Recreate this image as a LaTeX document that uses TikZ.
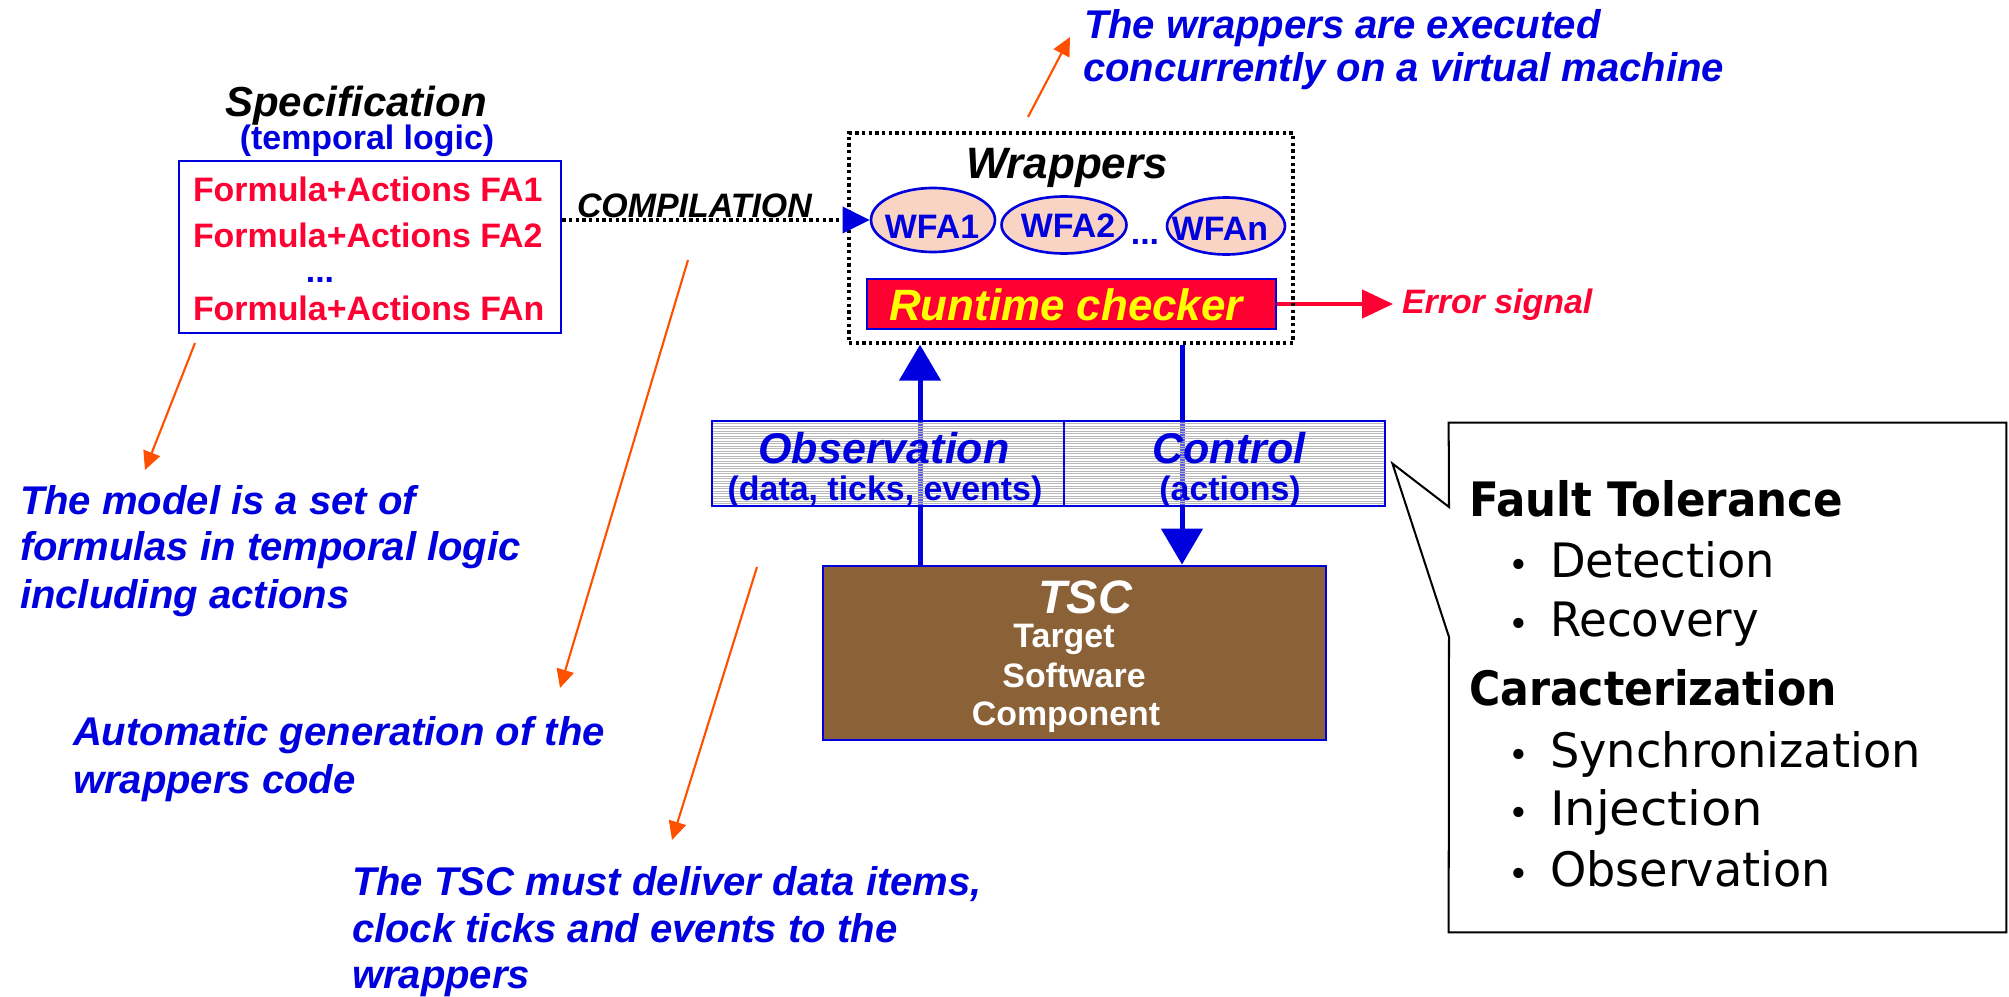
\documentclass[tikz,border=0pt]{standalone}
\usepackage{graphicx}
\usepackage{fontspec}
\setmainfont{Liberation Sans}
\newfontfamily\calloutfont{DejaVu Sans}
\usetikzlibrary{arrows.meta,fit,shapes.geometric}
\definecolor{txtblue}{RGB}{0,0,222}
\definecolor{fared}{RGB}{255,0,51}
\definecolor{peach}{RGB}{249,211,196}
\definecolor{tscbrown}{RGB}{139,97,56}
\definecolor{noteorange}{RGB}{255,80,0}
\definecolor{chkyellow}{RGB}{255,255,0}
% scale a line of text horizontally to a given width
\newcommand\hfit[2]{\resizebox{#1}{\height}{#2}}

\begin{document}
\begin{tikzpicture}[x=0.02cm, y=-0.02cm,
  txt/.style={inner sep=0pt, outer sep=0pt},
  note/.style={txt, anchor=base west, text=txtblue, font=\fontsize{22.8pt}{27pt}\selectfont\bfseries\itshape},
  formula/.style={txt, anchor=base west, text=fared, font=\fontsize{19.3pt}{23pt}\selectfont\bfseries},
  bluebox/.style={draw=txtblue, line width=1.6pt, inner sep=0pt},
  wfaell/.style={ellipse, draw=txtblue, fill=peach, line width=1.5pt, inner sep=0pt},
  wfatxt/.style={txt, anchor=base, text=txtblue, font=\fontsize{19.3pt}{23pt}\selectfont\bfseries},
  dotline/.style={line width=1.9pt, dash pattern=on 1.9pt off 1.9pt},
  flow/.style={txtblue, line width=2.85pt, -{Triangle[length=20.5pt, width=23.3pt]}},
  pointer/.style={noteorange, line width=1.2pt, -{Triangle[length=10.5pt, width=10pt]}},
  bandtitle/.style={txt, anchor=base, text=txtblue, font=\fontsize{24.5pt}{28pt}\selectfont\bfseries\itshape},
  bandsub/.style={txt, anchor=base, text=txtblue, font=\fontsize{19.3pt}{23pt}\selectfont\bfseries},
  tscline/.style={txt, anchor=base, text=white, font=\fontsize{19.3pt}{23pt}\selectfont\bfseries},
  callhead/.style={txt, anchor=base west, font=\calloutfont\bfseries\fontsize{27pt}{30pt}\selectfont},
  callitem/.style={txt, anchor=base west, font=\calloutfont\fontsize{27pt}{30pt}\selectfont},
]
\useasboundingbox (0,0) rectangle (2009,997);

% ---------- specification ----------
\node[txt, anchor=base, font=\fontsize{23.9pt}{28pt}\selectfont\bfseries\itshape] (spectitle) at (356,117) {Specification};
\node[txt, anchor=base, text=txtblue, font=\fontsize{19.3pt}{23pt}\selectfont\bfseries] (speclogic) at (367,150) {(temporal logic)};
\coordinate (specNW) at (179,161);
\coordinate (specSE) at (561,333);
\node[bluebox, fit=(specNW)(specSE)] (spec) {};
\node[formula] (fa1) at (193,201) {Formula+Actions FA1};
\node[formula] (fa2) at (193,247) {Formula+Actions FA2};
\node[txt, anchor=base, text=txtblue, font=\fontsize{19.3pt}{23pt}\selectfont\bfseries] (fadots) at (320,282) {...};
\node[formula] (fan) at (193,320) {Formula+Actions FAn};

% ---------- wrappers ----------
\coordinate (chkNW) at (867,279);
\coordinate (chkSE) at (1276,329);
\node[bluebox, fill=fared, fit=(chkNW)(chkSE)] (chk) {};
\node[txt, anchor=base, text=chkyellow, font=\fontsize{25pt}{29pt}\selectfont\bfseries\itshape] (chktxt) at (1066,320) {Runtime checker};
\coordinate (errtip) at (1393,304);
\draw[fared, line width=2.3pt, -{Triangle[length=17.6pt, width=16pt]}] (chk.east) -- (errtip);
\node[txt, anchor=base west, text=fared, font=\fontsize{19.3pt}{23pt}\selectfont\bfseries\itshape] (errtxt) at (1402,313) {Error signal};

\coordinate (wrapNW) at (849,133);
\coordinate (wrapSE) at (1293,343);
\node[draw, dotline, inner sep=0pt, fit=(wrapNW)(wrapSE)] (wrap) {};
\node[txt, anchor=base, font=\fontsize{25pt}{29pt}\selectfont\bfseries\itshape] (wraptitle) at (1067,178) {Wrappers};

\node[wfaell, minimum width=2.48cm, minimum height=1.28cm] (wfa1) at (933,220) {};
\node[wfaell, minimum width=2.5cm, minimum height=1.14cm] (wfa2) at (1064,225) {};
\node[wfaell, minimum width=2.36cm, minimum height=1.14cm] (wfan) at (1226,226) {};
\node[wfatxt] (wfa1txt) at (932,238) {WFA1};
\node[wfatxt] (wfa2txt) at (1068,237) {WFA2};
\node[wfatxt] (wfadots) at (1145,244) {...};
\node[wfatxt] (wfantxt) at (1220,240) {WFAn};

% compilation link
\draw[dotline, -{Triangle[length=15.4pt, width=15.4pt, color=txtblue, fill=txtblue, line width=0pt]}] (spec.east |- wfa1.west) -- (wfa1.west);
\node[txt, anchor=base west, font=\fontsize{19.3pt}{23pt}\selectfont\bfseries\itshape] (comp) at (577,217) {COMPILATION};

% ---------- target software component ----------
\coordinate (tscNW) at (823,566);
\coordinate (tscSE) at (1326,740);
\node[bluebox, fill=tscbrown, fit=(tscNW)(tscSE)] (tsc) {};
\node[txt, anchor=base, text=white, font=\fontsize{26.7pt}{30pt}\selectfont\bfseries\itshape] (tsctitle) at (1085,613) {TSC};
\node[tscline] (tsc1) at (1064,647) {Target};
\node[tscline] (tsc2) at (1074,687) {Software};
\node[tscline] (tsc3) at (1066,725) {Component};

% observation / control flows
\coordinate (upx) at (920,0);
\coordinate (dnx) at (1182,0);
\draw[flow] (tsc.north -| upx) -- (wrap.south -| upx);
\draw[flow] (wrap.south -| dnx) -- (tsc.north -| dnx);

% ---------- observation / control band ----------
\coordinate (obsNW) at (712,421);
\coordinate (obsSE) at (1064,506);
\coordinate (ctlNW) at (1064,421);
\coordinate (ctlSE) at (1385,506);
\fill[white, fill opacity=0.35] (obsNW) rectangle (ctlSE);
\foreach \yy in {423.5,426,...,504.5}
  \draw[gray!55, line width=0.35pt] (712,\yy) -- (1385,\yy);
\node[bluebox, fit=(obsNW)(obsSE)] (obs) {};
\node[bluebox, fit=(ctlNW)(ctlSE)] (ctl) {};
\node[bandtitle] (obstxt) at (884,463) {Observation};
\node[bandsub] (obssub) at (885,500) {(data, ticks, events)};
\node[bandtitle] (ctltxt) at (1229,463) {Control};
\node[bandsub] (ctlsub) at (1230,500) {(actions)};

% ---------- callout ----------
\coordinate (callNW) at (1449,423);
\coordinate (callSE) at (2006,932);
\node[inner sep=0pt, fit=(callNW)(callSE)] (callout) {};
\coordinate (calltip) at ([xshift=0.12cm]ctl.east);
\coordinate (wedgetop) at (1449,507);
\coordinate (wedgebot) at (1449,637);
\draw[line width=1.15pt, line join=miter, fill=white]
  (callout.north west) -- (callout.north east) -- (callout.south east) -- (callout.south west)
  -- (wedgebot) -- (calltip) -- (wedgetop) -- cycle;
\node[callhead] (ft) at (1469,516) {\hfit{7.48cm}{Fault Tolerance}};
\node[callitem] (det) at (1508,577) {\makebox[0.84cm][l]{\fontsize{20pt}{20pt}\selectfont •}\hfit{4.5cm}{Detection}};
\node[callitem] (rec) at (1508,636) {\makebox[0.84cm][l]{\fontsize{20pt}{20pt}\selectfont •}\hfit{4.18cm}{Recovery}};
\node[callhead] (car) at (1469,705) {\hfit{7.36cm}{Caracterization}};
\node[callitem] (syn) at (1508,767) {\makebox[0.84cm][l]{\fontsize{20pt}{20pt}\selectfont •}\hfit{7.42cm}{Synchronization}};
\node[callitem] (inj) at (1508,825) {\makebox[0.84cm][l]{\fontsize{20pt}{20pt}\selectfont •}\hfit{4.26cm}{Injection}};
\node[callitem] (obv) at (1508,886) {\makebox[0.84cm][l]{\fontsize{20pt}{20pt}\selectfont •}\hfit{5.62cm}{Observation}};

% ---------- annotations ----------
\node[note] (vm1) at (1084,39) {The wrappers are executed};
\node[note] (vm2) at (1083,82) {concurrently on a virtual machine};
\node[note] (mod1) at (20,514) {The model is a set of};
\node[note] (mod2) at (20,560) {formulas in temporal logic};
\node[note] (mod3) at (20,608) {including actions};
\node[note] (gen1) at (73,745) {Automatic generation of the};
\node[note] (gen2) at (73,793) {wrappers code};
\node[note] (dlv1) at (352,895) {The TSC must deliver data items,};
\node[note] (dlv2) at (352,942) {clock ticks and events to the};
\node[note] (dlv3) at (352,988) {wrappers};

% orange pointers
\coordinate (vmfrom) at (1028,117);
\coordinate (vmto) at (1070,37);
\coordinate (modfrom) at (195,343);
\coordinate (modto) at (145,470);
\coordinate (genfrom) at (688,260);
\coordinate (gento) at (560,688);
\coordinate (dlvfrom) at (757,567);
\coordinate (dlvto) at (672,840);
\draw[pointer] (vmfrom) -- (vmto);
\draw[pointer] (modfrom) -- (modto);
\draw[pointer] (genfrom) -- (gento);
\draw[pointer] (dlvfrom) -- (dlvto);
\end{tikzpicture}
\end{document}
